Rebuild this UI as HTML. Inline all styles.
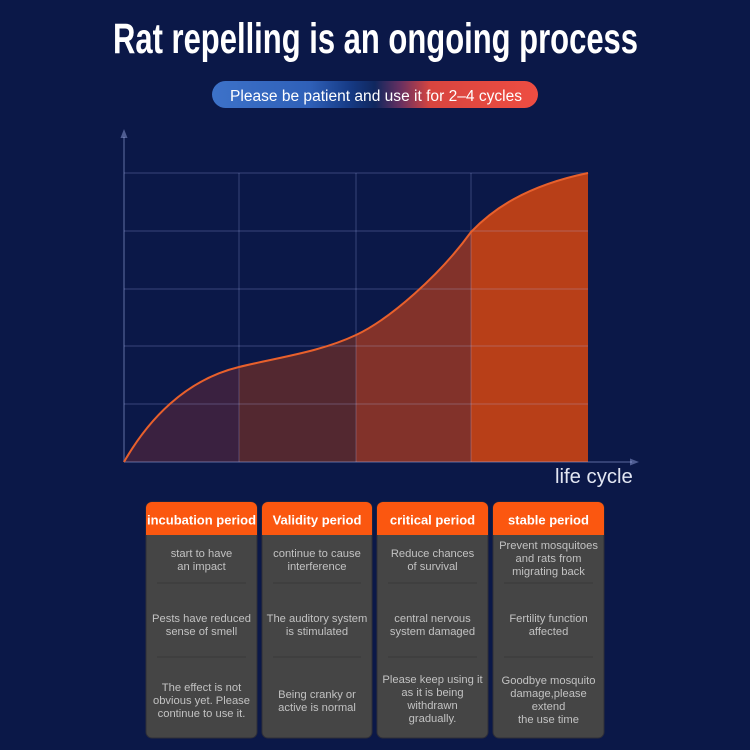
<!DOCTYPE html>
<html>
<head>
<meta charset="utf-8">
<style>
  html,body{margin:0;padding:0;background:#0b1848;}
  svg{display:block;}
  text{font-family:"Liberation Sans", Arial, sans-serif;}
</style>
</head>
<body>
<svg width="750" height="750" viewBox="0 0 750 750" xmlns="http://www.w3.org/2000/svg">
  <defs>
    <linearGradient id="pill" x1="0" y1="0" x2="1" y2="0">
      <stop offset="0" stop-color="#3d72c9"/>
      <stop offset="0.30" stop-color="#2f60b8"/>
      <stop offset="0.42" stop-color="#163b86"/>
      <stop offset="0.50" stop-color="#10275e"/>
      <stop offset="0.58" stop-color="#6a3060"/>
      <stop offset="0.67" stop-color="#d8453f"/>
      <stop offset="1" stop-color="#ee4d42"/>
    </linearGradient>
    <clipPath id="area">
      <path d="M124,462 C148,420 185,380 239,367 C280,357 320,352 356,335 C390,319 440,275 471,232 C492,210 525,186 588,173 L588,462 Z"/>
    </clipPath>
  </defs>

  <rect width="750" height="750" fill="#0b1848"/>

  <!-- Title -->
  <text x="375.5" y="53" text-anchor="middle" font-size="43" font-weight="bold" fill="#ffffff" textLength="525" lengthAdjust="spacingAndGlyphs">Rat repelling is an ongoing process</text>

  <!-- Pill -->
  <rect x="212" y="81" width="326" height="27" rx="13.5" fill="url(#pill)"/>
  <text x="376" y="101" text-anchor="middle" font-size="15.5" fill="#ffffff" textLength="292" lengthAdjust="spacingAndGlyphs">Please be patient and use it for 2–4 cycles</text>

  <!-- Fills -->
  <g clip-path="url(#area)">
    <rect x="124" y="160" width="115" height="302" fill="#3a2140"/>
    <rect x="239" y="160" width="117" height="302" fill="#532830"/>
    <rect x="356" y="160" width="115" height="302" fill="#82322a"/>
    <rect x="471" y="160" width="117" height="302" fill="#b83f18"/>
  </g>

  <!-- Grid -->
  <g stroke="rgba(180,195,255,0.22)" stroke-width="1.2" fill="none">
    <line x1="124" y1="173" x2="588" y2="173"/>
    <line x1="124" y1="231" x2="588" y2="231"/>
    <line x1="124" y1="289" x2="588" y2="289"/>
    <line x1="124" y1="346" x2="588" y2="346"/>
    <line x1="124" y1="404" x2="588" y2="404"/>
    <line x1="239" y1="173" x2="239" y2="462"/>
    <line x1="356" y1="173" x2="356" y2="462"/>
    <line x1="471" y1="173" x2="471" y2="462"/>
  </g>

  <!-- Axes -->
  <g stroke="rgba(180,195,255,0.32)" stroke-width="1.6" fill="none">
    <line x1="124" y1="137" x2="124" y2="462"/>
    <line x1="124" y1="462" x2="632" y2="462"/>
  </g>
  <polygon points="124,129 120.5,138 127.5,138" fill="rgba(180,195,255,0.4)"/>
  <polygon points="639,462 630,458.5 630,465.5" fill="rgba(180,195,255,0.4)"/>

  <!-- Curve -->
  <path d="M124,462 C148,420 185,380 239,367 C280,357 320,352 356,335 C390,319 440,275 471,232 C492,210 525,186 588,173" fill="none" stroke="#e8602c" stroke-width="2"/>

  <text x="555" y="483" font-size="20.3" fill="#e2e6f2">life cycle</text>

  <!-- Cards -->
  <g stroke="#2e2e38" stroke-width="1">
    <rect x="146" y="502" width="111" height="236" rx="6" fill="#454545"/>
    <rect x="262" y="502" width="110" height="236" rx="6" fill="#454545"/>
    <rect x="377" y="502" width="111" height="236" rx="6" fill="#454545"/>
    <rect x="493" y="502" width="111" height="236" rx="6" fill="#454545"/>
  </g>
  <g>
    <rect x="146" y="502" width="111" height="33" rx="6" fill="#fb5710"/>
    <rect x="146" y="515" width="111" height="20" fill="#fb5710"/>
    <rect x="262" y="502" width="110" height="33" rx="6" fill="#fb5710"/>
    <rect x="262" y="515" width="110" height="20" fill="#fb5710"/>
    <rect x="377" y="502" width="111" height="33" rx="6" fill="#fb5710"/>
    <rect x="377" y="515" width="111" height="20" fill="#fb5710"/>
    <rect x="493" y="502" width="111" height="33" rx="6" fill="#fb5710"/>
    <rect x="493" y="515" width="111" height="20" fill="#fb5710"/>
  </g>

  <g stroke="#393939" stroke-width="1">
    <line x1="157" y1="583" x2="246" y2="583"/>
    <line x1="157" y1="657" x2="246" y2="657"/>
    <line x1="273" y1="583" x2="361" y2="583"/>
    <line x1="273" y1="657" x2="361" y2="657"/>
    <line x1="388" y1="583" x2="477" y2="583"/>
    <line x1="388" y1="657" x2="477" y2="657"/>
    <line x1="504" y1="583" x2="593" y2="583"/>
    <line x1="504" y1="657" x2="593" y2="657"/>
  </g>

  <g font-size="13" font-weight="bold" fill="#ffffff" text-anchor="middle">
    <text x="201.5" y="524.5">incubation period</text>
    <text x="317" y="524.5">Validity period</text>
    <text x="432.5" y="524.5">critical period</text>
    <text x="548.5" y="524.5">stable period</text>
  </g>

  <g font-size="11.2" fill="#c2c2c2" text-anchor="middle">
    <!-- card 1 -->
    <text x="201.5" y="557">start to have</text>
    <text x="201.5" y="570">an impact</text>
    <text x="201.5" y="622">Pests have reduced</text>
    <text x="201.5" y="635">sense of smell</text>
    <text x="201.5" y="691">The effect is not</text>
    <text x="201.5" y="704">obvious yet. Please</text>
    <text x="201.5" y="717">continue to use it.</text>
    <!-- card 2 -->
    <text x="317" y="557">continue to cause</text>
    <text x="317" y="570">interference</text>
    <text x="317" y="622">The auditory system</text>
    <text x="317" y="635">is stimulated</text>
    <text x="317" y="698">Being cranky or</text>
    <text x="317" y="711">active is normal</text>
    <!-- card 3 -->
    <text x="432.5" y="557">Reduce chances</text>
    <text x="432.5" y="570">of survival</text>
    <text x="432.5" y="622">central nervous</text>
    <text x="432.5" y="635">system damaged</text>
    <text x="432.5" y="683">Please keep using it</text>
    <text x="432.5" y="696">as it is being</text>
    <text x="432.5" y="709">withdrawn</text>
    <text x="432.5" y="722">gradually.</text>
    <!-- card 4 -->
    <text x="548.5" y="549">Prevent mosquitoes</text>
    <text x="548.5" y="562">and rats from</text>
    <text x="548.5" y="575">migrating back</text>
    <text x="548.5" y="622">Fertility function</text>
    <text x="548.5" y="635">affected</text>
    <text x="548.5" y="684">Goodbye mosquito</text>
    <text x="548.5" y="697">damage,please</text>
    <text x="548.5" y="710">extend</text>
    <text x="548.5" y="723">the use time</text>
  </g>
</svg>
</body>
</html>
